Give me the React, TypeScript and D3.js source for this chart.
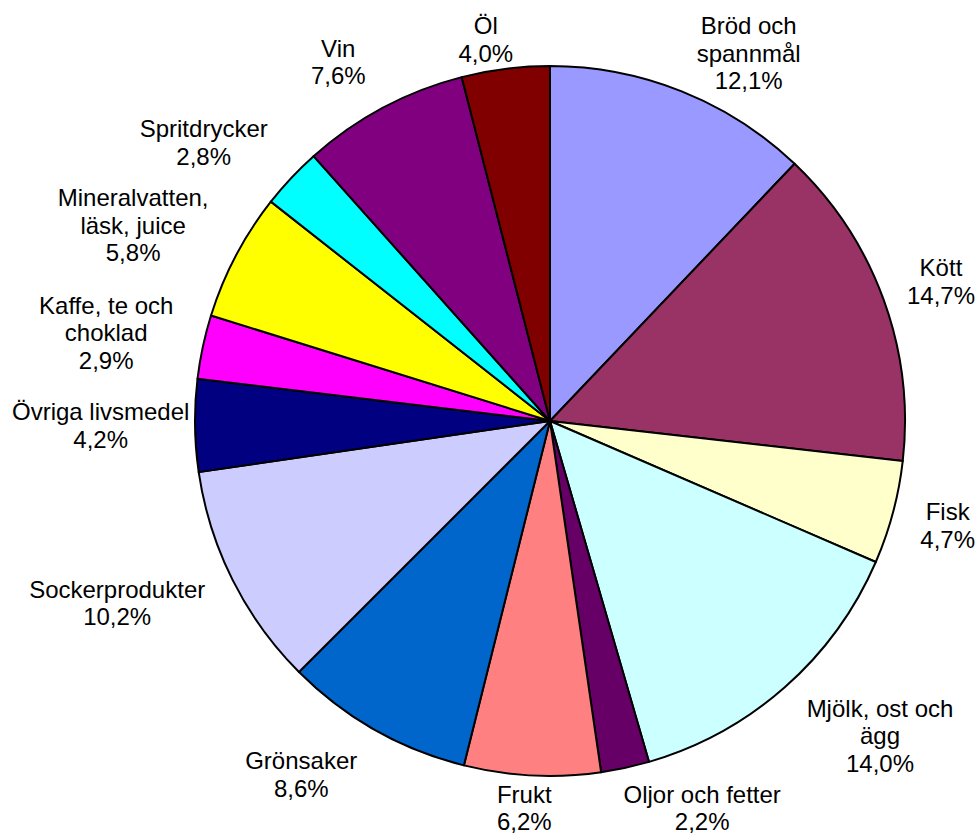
import React from "react";
import * as d3 from "d3";

const categories = [
  "Bröd och\nspannmål",
  "Kött",
  "Fisk",
  "Mjölk, ost och\nägg",
  "Oljor och fetter",
  "Frukt",
  "Grönsaker",
  "Sockerprodukter",
  "Övriga livsmedel",
  "Kaffe, te och\nchoklad",
  "Mineralvatten,\nläsk, juice",
  "Spritdrycker",
  "Vin",
  "Öl",
];

const values = [12.1, 14.7, 4.7, 14.0, 2.2, 6.2, 8.6, 10.2, 4.2, 2.9, 5.8, 2.8, 7.6, 4.0];

const colors = [
  "#9999FF",
  "#993366",
  "#FFFFCC",
  "#CCFFFF",
  "#660066",
  "#FF8080",
  "#0066CC",
  "#CCCCFF",
  "#000080",
  "#FF00FF",
  "#FFFF00",
  "#00FFFF",
  "#800080",
  "#800000",
];

const W = 977;
const H = 835;
const CX = 550;
const CY = 421;
const R = 355;
const FONT_SIZE = 24;
const LINE_H = 27.6;
const FONT = `${FONT_SIZE}px 'Liberation Sans', Arial, sans-serif`;

let ctx: CanvasRenderingContext2D | null = null;
function measure(t: string): number {
  if (!ctx) {
    const c = document.createElement("canvas");
    ctx = c.getContext("2d");
  }
  if (!ctx) return t.length * FONT_SIZE * 0.55;
  ctx.font = FONT;
  return ctx.measureText(t).width;
}

export default function App() {
  const pie = d3
    .pie<number>()
    .sort(null)
    .value((d) => d)
    .startAngle(0)
    .endAngle(2 * Math.PI);
  const arcs = pie(values);
  const arc = d3.arc<d3.PieArcDatum<number>>().innerRadius(0).outerRadius(R);

  const gap = 379;
  const pad = 6;

  const labels = arcs.map((a, i) => {
    const mid = (a.startAngle + a.endAngle) / 2;
    const s = Math.sin(mid);
    const c = Math.cos(mid);
    const lines = [...categories[i].split("\n"), values[i].toFixed(1).replace(".", ",") + "%"];
    const w = Math.max(...lines.map(measure));
    const h = lines.length * LINE_H;
    const gx = Math.max(-1, Math.min(1, s * 4));
    let qx = CX + gap * s + gx * (w / 2 + pad);
    let qy = CY - gap * c - c * (h / 2);
    // clamp to chart area
    if (qy - h / 2 < 12) qy = 12 + h / 2;
    if (qy + h / 2 > 836) qy = 836 - h / 2;
    if (qx - w / 2 < 12) qx = 12 + w / 2;
    if (qx + w / 2 > 975) qx = 975 - w / 2;
    const base0 = qy - h / 2 + 21.9;
    return { lines, qx, base0 };
  });

  return (
    <svg
      width={W}
      height={H}
      style={{ position: "absolute", left: 0, top: 0, background: "#fff" }}
    >
      <g transform={`translate(${CX},${CY})`}>
        {arcs.map((a, i) => (
          <path
            key={i}
            d={arc(a) || ""}
            fill={colors[i]}
            stroke="#000"
            strokeWidth={2}
            strokeLinejoin="round"
          />
        ))}
      </g>
      {labels.map((l, i) => (
        <text
          key={i}
          x={l.qx}
          y={l.base0}
          textAnchor="middle"
          fontFamily="'Liberation Sans', Arial, sans-serif"
          fontSize={FONT_SIZE}
          fill="#000"
        >
          {l.lines.map((t, j) => (
            <tspan key={j} x={l.qx} y={l.base0 + j * LINE_H}>
              {t}
            </tspan>
          ))}
        </text>
      ))}
    </svg>
  );
}
